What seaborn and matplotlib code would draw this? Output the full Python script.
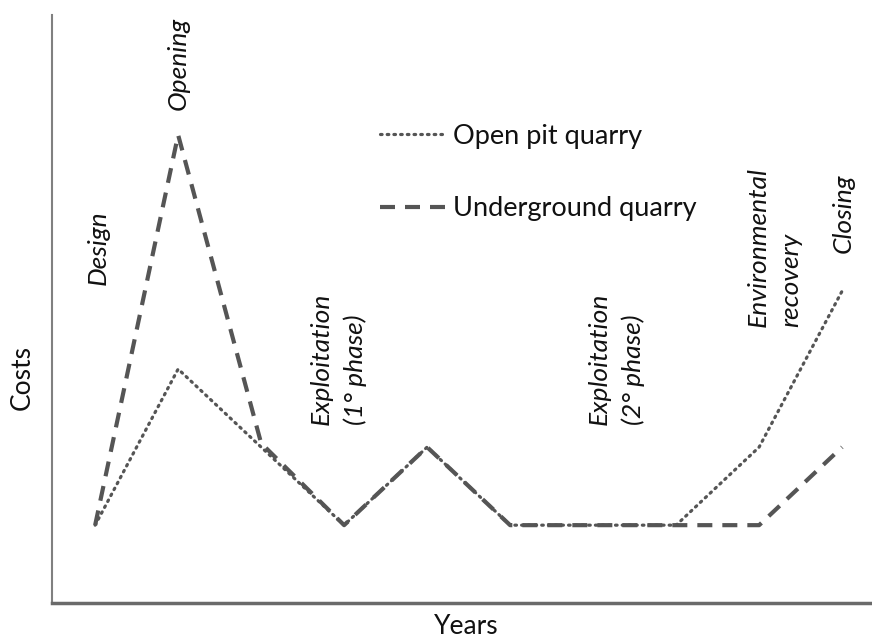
import numpy as np
import pandas as pd
import matplotlib
matplotlib.use("Agg")
import matplotlib.pyplot as plt
import seaborn as sns

# Phases of the quarry life (x positions are just the step index)
steps = list(range(10))
open_pit = [1, 3, 2, 1, 2, 1, 1, 1, 2, 4]
underground = [1, 6, 2.05, 1, 2, 1, 1, 1, 1, 2]

phase_labels = ["Design", "Opening", "Exploitation\n(1° phase)",
                "Exploitation\n(2° phase)", "Environmental\nrecovery", "Closing"]

sns.set_style("white")
plt.rcParams["font.family"] = ["Lato", "DejaVu Sans"]

df = pd.DataFrame({"step": steps, "open": open_pit, "under": underground})

fig = plt.figure(figsize=(8.72, 6.39), dpi=100)
ax = fig.add_axes([0.0596, 0.056, 0.9404, 0.921])

line_col = "#555555"
sns.lineplot(data=df, x="step", y="open", ax=ax, color=line_col, lw=2.3,
             linestyle=(0, (0.5, 1.6)), dash_capstyle="round",
             label="Open pit quarry")
sns.lineplot(data=df, x="step", y="under", ax=ax, color=line_col, lw=3.0,
             linestyle=(0, (3.6, 2.4)), label="Underground quarry")

# phase annotations (rotated, italic)
label_pos = [(0.04, 4.08), (1.0, 6.32), (2.93, 2.28),
             (6.28, 2.28), (8.19, 3.54), (9.01, 4.49)]
for txt, (x, y) in zip(phase_labels, label_pos):
    ax.text(x, y, txt, rotation=90, ha="center", va="bottom",
            multialignment="left", fontsize=19, style="italic",
            color="#111111", linespacing=1.5)

ax.set_xlim(-0.52, 9.36)
ax.set_ylim(0, 7.54)
ax.set_xticks([])
ax.set_yticks([])
ax.set_xlabel("Years", fontsize=19, color="#111111")
ax.set_ylabel("Costs", fontsize=19, color="#111111")
ax.xaxis.set_label_coords(0.505, -0.018)
ax.xaxis.label.set_va("top")
ax.yaxis.set_label_coords(-0.036, 0.383)
ax.yaxis.label.set_va("center")

for s in ["top", "right"]:
    ax.spines[s].set_visible(False)
ax.spines["left"].set_color("#808080")
ax.spines["left"].set_linewidth(1.5)
ax.spines["bottom"].set_color("#6a6a6a")
ax.spines["bottom"].set_linewidth(2.5)

leg = ax.legend(loc="upper left", bbox_to_anchor=(0.387, 0.833), frameon=False,
                fontsize=19.5, handlelength=2.4, handletextpad=0.3,
                labelspacing=1.75, borderaxespad=0)
for t in leg.get_texts():
    t.set_color("#111111")

fig.savefig("out.png", dpi=100)
